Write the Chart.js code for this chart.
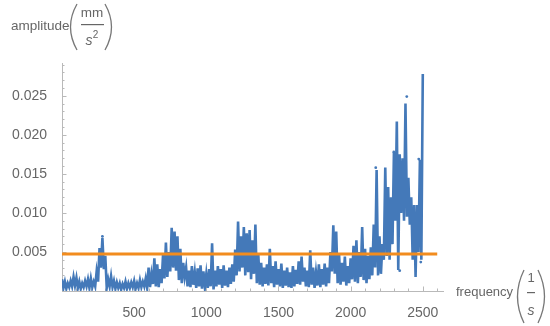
<!DOCTYPE html>
<html>
<head>
<meta charset="utf-8">
<script src="https://cdn.jsdelivr.net/npm/chart.js@4"></script>
<style>
  html, body { margin: 0; padding: 0; background: #fff; }
  #chart { display: block; }
</style>
</head>
<body>
<canvas id="chart" width="550" height="326"></canvas>
<script>
// Spectrum: peak values at 0, 20, 40 ... 2500 Hz,
// trough values halfway between (10, 30 ... 2490 Hz)
const peakAmps = [
  0.0015, 0.0012, 0.0010, 0.0013, 0.0018, 0.0017, 0.0012, 0.0010, 0.0013, 0.0015,
  0.0016, 0.0012, 0.0025, 0.0055, 0.0068, 0.0045, 0.0015, 0.0019, 0.0013, 0.0011,
  0.0010, 0.0009, 0.0012, 0.0010, 0.0011, 0.0013, 0.0010, 0.0014, 0.0012, 0.0016,
  0.0030, 0.0022, 0.0042, 0.0034, 0.0028, 0.0046, 0.0062, 0.0050, 0.0081, 0.0076,
  0.0070, 0.0054, 0.0036, 0.0030, 0.0026, 0.0032, 0.0024, 0.0029, 0.0033, 0.0025,
  0.0022, 0.0028, 0.0061, 0.0026, 0.0032, 0.0028, 0.0033, 0.0026, 0.0030, 0.0034,
  0.0053, 0.0089, 0.0070, 0.0082, 0.0074, 0.0078, 0.0065, 0.0085, 0.0048, 0.0036,
  0.0030, 0.0034, 0.0054, 0.0032, 0.0038, 0.0028, 0.0035, 0.0026, 0.0030, 0.0024,
  0.0032, 0.0027, 0.0038, 0.0044, 0.0030, 0.0026, 0.0052, 0.0030, 0.0024, 0.0034,
  0.0028, 0.0035, 0.0030, 0.0050, 0.0084, 0.0076, 0.0046, 0.0036, 0.0044, 0.0032,
  0.0042, 0.0058, 0.0065, 0.0050, 0.0082, 0.0054, 0.0045, 0.0056, 0.0085, 0.0155,
  0.0070, 0.0060, 0.0158, 0.0133, 0.0120, 0.0178, 0.0217, 0.0175, 0.0170, 0.0240,
  0.0145, 0.0120, 0.0110, 0.0110, 0.0168, 0.0278
];
const troughAmps = [
  0.0004, 0.0003, 0.0005, 0.0006, 0.0007, 0.0004, 0.0003, 0.0005, 0.0006, 0.0004,
  0.0005, 0.0006, 0.0012, 0.0030, 0.0028, 0.0004, 0.0006, 0.0005, 0.0003, 0.0004,
  0.0002, 0.0004, 0.0003, 0.0004, 0.0005, 0.0003, 0.0004, 0.0005, 0.0006, 0.0004,
  0.0005, 0.0009, 0.0006, 0.0005, 0.0010, 0.0016, 0.0018, 0.0025, 0.0030, 0.0026,
  0.0014, 0.0010, 0.0018, 0.0006, 0.0005, 0.0008, 0.0004, 0.0006, 0.0003, 0.0005,
  0.0004, 0.0006, 0.0002, 0.0006, 0.0008, 0.0004, 0.0007, 0.0005, 0.0009, 0.0012,
  0.0020, 0.0025, 0.0030, 0.0020, 0.0024, 0.0015, 0.0022, 0.0010, 0.0008, 0.0006,
  0.0009, 0.0007, 0.0010, 0.0005, 0.0008, 0.0006, 0.0004, 0.0007, 0.0005, 0.0004,
  0.0006, 0.0009, 0.0008, 0.0012, 0.0006, 0.0005, 0.0008, 0.0004, 0.0007, 0.0005,
  0.0008, 0.0006, 0.0010, 0.0025, 0.0022, 0.0010, 0.0008, 0.0012, 0.0007, 0.0010,
  0.0015, 0.0012, 0.0010, 0.0018, 0.0014, 0.0010, 0.0015, 0.0020, 0.0030, 0.0020,
  0.0022, 0.0040, 0.0045, 0.0040, 0.0060, 0.0090, 0.0027, 0.0100, 0.0090, 0.0095,
  0.0085, 0.0040, 0.0018, 0.0050, 0.0040
];
const binStep = 20;

// loose sample dots sitting off the line
const dotFreqs = [280, 2174, 2299, 2389, 2472, 2340, 2486];
const dotAmps  = [0.0070, 0.0158, 0.0178, 0.0249, 0.0169, 0.0026, 0.0037];

// threshold line
const threshold = 0.00475;
const thresholdFreqs = [0, 2600];

// axes
const xTickVals = [500, 1000, 1500, 2000, 2500];
const yTickVals = [0.005, 0.010, 0.015, 0.020, 0.025];
const xMinorStep = 100, xMinorMax = 2600, xMax = 2640;
const yMinorStep = 0.001, yMax = 0.0292;

const spectrum = [];
peakAmps.forEach((v, i) => {
  spectrum.push({ x: i * binStep, y: v });
  if (i < troughAmps.length) spectrum.push({ x: i * binStep + binStep / 2, y: troughAmps[i] });
});

const BLUE = '#4479b9';
const ORANGE = '#f28c1e';
const AXIS = '#b9b9b9';
const TEXT = '#666666';
const FONT = '"Liberation Sans", Arial, sans-serif';

// Mathematica style inward ticks
const axisTicks = {
  id: 'axisTicks',
  beforeDatasetsDraw(chart) {
    const { ctx, scales: { x, y } } = chart;
    ctx.save();
    ctx.strokeStyle = AXIS;
    ctx.lineWidth = 1;
    for (let k = 1; k * xMinorStep <= xMinorMax; k++) {
      const f = k * xMinorStep;
      const px = Math.round(x.getPixelForValue(f)) + 0.5;
      const len = k % 5 === 0 ? 4.5 : 2.5;
      ctx.beginPath();
      ctx.moveTo(px, y.bottom);
      ctx.lineTo(px, y.bottom - len);
      ctx.stroke();
    }
    for (let k = 1; k * yMinorStep <= yMax; k++) {
      const py = Math.round(y.getPixelForValue(k * yMinorStep)) + 0.5;
      const len = k % 5 === 0 ? 4.5 : 2.5;
      ctx.beginPath();
      ctx.moveTo(x.left, py);
      ctx.lineTo(x.left + len, py);
      ctx.stroke();
    }
    ctx.restore();
  }
};

function paren(ctx, x0, top, bottom, bulge) {
  ctx.beginPath();
  ctx.moveTo(x0, top);
  ctx.quadraticCurveTo(x0 - bulge, (top + bottom) / 2, x0, bottom);
  ctx.stroke();
}

// axis labels with unit fractions
const axisLabels = {
  id: 'axisLabels',
  afterDraw(chart) {
    const { ctx } = chart;
    ctx.save();
    ctx.fillStyle = TEXT;
    ctx.strokeStyle = '#777';
    ctx.lineWidth = 1.3;
    ctx.textBaseline = 'middle';

    // amplitude (mm / s^2)
    ctx.font = '13.5px ' + FONT;
    ctx.textAlign = 'left';
    ctx.fillText('amplitude', 11, 26);
    paren(ctx, 77, 4, 50, 13);
    paren(ctx, 105, 4, 50, -13);
    ctx.textAlign = 'center';
    ctx.fillText('mm', 92, 13);
    ctx.fillRect(81, 24, 23, 1.2);
    ctx.font = 'italic 14px ' + FONT;
    ctx.fillText('s', 89, 41);
    ctx.font = '10px ' + FONT;
    ctx.fillText('2', 95.5, 35);

    // frequency (1 / s)
    ctx.font = '13px ' + FONT;
    ctx.textAlign = 'left';
    ctx.fillText('frequency', 456, 292);
    paren(ctx, 524, 270, 323, 13);
    paren(ctx, 538, 270, 323, -13);
    ctx.textAlign = 'center';
    ctx.fillText('1', 531, 278);
    ctx.fillRect(527, 292, 8, 1.2);
    ctx.font = 'italic 14px ' + FONT;
    ctx.fillText('s', 531, 311);
    ctx.restore();
  }
};

new Chart(document.getElementById('chart'), {
  type: 'line',
  data: {
    datasets: [
      {
        label: 'threshold',
        data: thresholdFreqs.map(f => ({ x: f, y: threshold })),
        borderColor: ORANGE,
        borderWidth: 3,
        pointRadius: 0,
        order: 0
      },
      {
        label: 'dots',
        type: 'scatter',
        data: dotFreqs.map((f, i) => ({ x: f, y: dotAmps[i] })),
        backgroundColor: BLUE,
        borderWidth: 0,
        pointRadius: 1.4,
        order: 1
      },
      {
        label: 'amplitude',
        data: spectrum,
        borderColor: BLUE,
        borderWidth: 2.6,
        pointRadius: 0,
        tension: 0,
        order: 2
      }
    ]
  },
  options: {
    responsive: false,
    animation: false,
    devicePixelRatio: 1,
    layout: { padding: { top: 63, right: 107, left: 0, bottom: 0 } },
    plugins: { legend: { display: false }, tooltip: { enabled: false } },
    scales: {
      x: {
        type: 'linear',
        min: 0,
        max: xMax,
        afterFit: s => { s.height = 35; },
        afterBuildTicks: s => { s.ticks = xTickVals.map(v => ({ value: v })); },
        grid: { display: false },
        border: { color: AXIS, width: 1 },
        ticks: {
          autoSkip: false,
          maxRotation: 0,
          padding: 6,
          color: TEXT,
          font: { family: FONT, size: 14 },
          callback: v => String(v)
        }
      },
      y: {
        type: 'linear',
        min: 0,
        max: yMax,
        afterFit: s => { s.width = 62; },
        afterBuildTicks: s => { s.ticks = yTickVals.map(v => ({ value: v })); },
        grid: { display: false },
        border: { color: AXIS, width: 1 },
        ticks: {
          autoSkip: false,
          padding: 7,
          color: TEXT,
          font: { family: FONT, size: 14 },
          callback: v => v.toFixed(3)
        }
      }
    }
  },
  plugins: [axisTicks, axisLabels]
});
</script>
</body>
</html>
